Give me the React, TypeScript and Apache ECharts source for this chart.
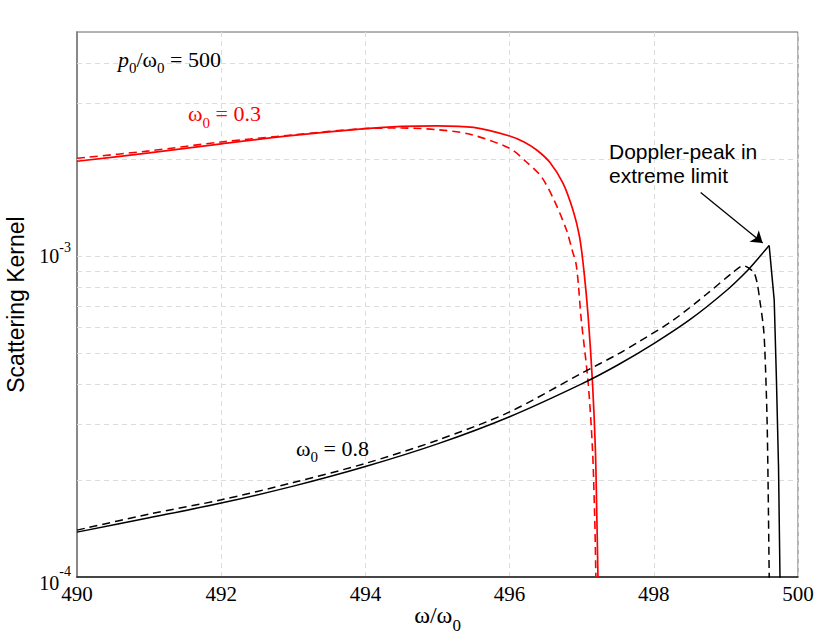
import React, { useEffect, useRef } from 'react';
import * as echarts from 'echarts';

// ---------- data ----------
const xTickValues = [490, 492, 494, 496, 498, 500];
const yGridValues = [2e-4, 3e-4, 4e-4, 5e-4, 6e-4, 7e-4, 8e-4, 9e-4, 1e-3, 2e-3, 3e-3, 4e-3];

// omega0 = 0.3, solid (red)
const redSolidX = [490, 491, 492, 493, 494, 494.5, 495, 495.5, 496, 496.2, 496.38, 496.56, 496.74, 496.88, 496.97, 497.03, 497.09, 497.15, 497.19, 497.21, 497.225, 497.235];
const redSolidY = [1.977e-3, 2.10e-3, 2.24e-3, 2.38e-3, 2.50e-3, 2.54e-3, 2.55e-3, 2.52e-3, 2.37e-3, 2.27e-3, 2.14e-3, 1.96e-3, 1.69e-3, 1.39e-3, 1.15e-3, 9.05e-4, 6.47e-4, 4.02e-4, 2.49e-4, 1.54e-4, 1.01e-4, 7e-5];

// omega0 = 0.3, dashed (red)
const redDashX = [490, 491, 492, 493, 494, 494.5, 495, 495.45, 496, 496.23, 496.44, 496.62, 496.79, 496.87, 496.92, 496.955, 496.99, 497.09, 497.15, 497.18, 497.195, 497.205];
const redDashY = [2.02e-3, 2.13e-3, 2.27e-3, 2.39e-3, 2.50e-3, 2.51e-3, 2.48e-3, 2.40e-3, 2.17e-3, 1.97e-3, 1.77e-3, 1.49e-3, 1.205e-3, 1.04e-3, 9.51e-4, 8.12e-4, 6.47e-4, 4.02e-4, 2.49e-4, 1.54e-4, 1.05e-4, 7e-5];

// omega0 = 0.8, solid (black) -- peak at index 14
const blackSolidX = [490, 491, 492, 493, 494, 495, 496, 497, 497.5, 498, 498.5, 499, 499.3, 499.45, 499.6, 499.67, 499.7, 499.73, 499.75, 499.76];
const blackSolidY = [1.38e-4, 1.53e-4, 1.70e-4, 1.92e-4, 2.21e-4, 2.60e-4, 3.16e-4, 4.0e-4, 4.58e-4, 5.34e-4, 6.34e-4, 7.79e-4, 9.03e-4, 9.86e-4, 1.08e-3, 7.3e-4, 4.2e-4, 2.2e-4, 1.0e-4, 7e-5];
const blackSolidPeakIndex = 14;

// omega0 = 0.8, dashed (black)
const blackDashX = [490, 491, 492, 493, 494, 495, 496, 497, 497.5, 497.81, 498.27, 498.73, 499.1, 499.24, 499.38, 499.43, 499.47, 499.52, 499.54, 499.57, 499.585, 499.6, 499.61];
const blackDashY = [1.40e-4, 1.57e-4, 1.74e-4, 1.97e-4, 2.26e-4, 2.67e-4, 3.27e-4, 4.32e-4, 4.95e-4, 5.44e-4, 6.32e-4, 7.61e-4, 8.91e-4, 9.34e-4, 8.94e-4, 8.32e-4, 7.29e-4, 6.02e-4, 5.1e-4, 3.16e-4, 1.96e-4, 1.03e-4, 7e-5];

// annotation arrow (data coordinates)
const arrowStart = [498.65, 1.58e-3];
const arrowEnd = [499.51, 1.10e-3];

const SERIF = '"Liberation Serif", "Times New Roman", serif';
const SANS = '"Liberation Sans", Arial, sans-serif';

const pair = (xs: number[], ys: number[]) => xs.map((x, i) => [x, ys[i]]);

export default function App() {
  const ref = useRef<HTMLDivElement>(null);

  useEffect(() => {
    if (!ref.current) return;
    const chart = echarts.init(ref.current, null, { renderer: 'svg' });

    const serifRich = (color: string) => ({
      n: { fontFamily: SERIF, fontSize: 22, fill: color },
      i: { fontFamily: SERIF, fontSize: 22, fontStyle: 'italic', fill: color },
      s: { fontFamily: SERIF, fontSize: 15, fill: color, padding: [18, 0, 0, 0] },
    });

    const option: any = {
      animation: false,
      backgroundColor: '#ffffff',
      grid: {
        left: 77, right: 32, top: 32, bottom: 65,
        show: true, borderColor: '#666', borderWidth: 1,
        outerBoundsMode: 'none',
      },
      xAxis: {
        type: 'value', min: 490, max: 500, interval: 2,
        axisLine: { show: true, onZero: false, lineStyle: { color: '#222', width: 1.5 } },
        axisTick: { show: false },
        axisLabel: {
          margin: 6, fontFamily: SERIF, fontSize: 21, color: '#000',
          formatter: (v: number) => (xTickValues.includes(v) ? String(v) : ''),
        },
        splitLine: { show: true, lineStyle: { color: '#dcdcdc', type: [5, 4], width: 1 } },
        name: '{n|ω/ω}{s|0}',
        nameLocation: 'middle', nameGap: 18, nameMoveOverlap: false,
        nameTextStyle: {
          rich: {
            n: { fontFamily: SERIF, fontSize: 24, color: '#000' },
            s: { fontFamily: SERIF, fontSize: 17, color: '#000', padding: [22, 0, 0, 0] },
          },
        },
      },
      yAxis: {
        type: 'log', logBase: 10, min: 1e-4, max: 5e-3,
        axisLine: { show: true, lineStyle: { color: '#888', width: 2 } },
        axisTick: { show: false },
        splitLine: { show: false },
        axisLabel: {
          margin: 6,
          formatter: (v: number) => {
            const e = Math.round(Math.log10(v));
            if (Math.abs(v - Math.pow(10, e)) / v > 1e-6) return '';
            return e === -4 ? `{b|10}{pb|${e}}` : `{a|10}{p|${e}}`;
          },
          rich: {
            a: { fontFamily: SERIF, fontSize: 20, color: '#000' },
            p: { fontFamily: SERIF, fontSize: 14, color: '#000', padding: [0, 0, 18, 0] },
            b: { fontFamily: SERIF, fontSize: 20, color: '#000', padding: [12, 0, 0, 0] },
            pb: { fontFamily: SERIF, fontSize: 14, color: '#000', padding: [0, 0, 12, 0] },
          },
        },
        name: 'Scattering Kernel',
        nameLocation: 'middle', nameGap: 50, nameMoveOverlap: false,
        nameTextStyle: { fontFamily: SANS, fontSize: 23, color: '#000' },
      },
      series: [
        {
          name: 'w03 solid', type: 'line', data: pair(redSolidX, redSolidY),
          showSymbol: false, symbol: 'none', smooth: 0.3, clip: true,
          lineStyle: { color: '#ff0000', width: 1.7, type: 'solid' },
          markLine: {
            silent: true, symbol: 'none', z: 1, animation: false, precision: 10,
            label: { show: false },
            lineStyle: { color: '#dcdcdc', type: [5, 4], width: 1 },
            emphasis: { disabled: true },
            data: yGridValues.map((v) => ({ yAxis: v })),
          },
          z: 3,
        },
        {
          name: 'w03 dashed', type: 'line', data: pair(redDashX, redDashY),
          showSymbol: false, symbol: 'none', smooth: 0.3, clip: true,
          lineStyle: { color: '#ff0000', width: 1.6, type: [8, 5] },
          z: 3,
        },
        {
          name: 'w08 solid rise', type: 'line',
          data: pair(blackSolidX.slice(0, blackSolidPeakIndex + 1), blackSolidY.slice(0, blackSolidPeakIndex + 1)),
          showSymbol: false, symbol: 'none', smooth: 0.3, clip: true,
          lineStyle: { color: '#000', width: 1.5, type: 'solid' },
          markLine: {
            silent: true, symbol: ['none', 'arrow'], symbolSize: 11, animation: false, precision: 10,
            label: { show: false },
            lineStyle: { color: '#000', type: 'solid', width: 1.3 },
            emphasis: { disabled: true },
            data: [[{ coord: arrowStart }, { coord: arrowEnd }]],
          },
          z: 3,
        },
        {
          name: 'w08 solid fall', type: 'line',
          data: pair(blackSolidX.slice(blackSolidPeakIndex), blackSolidY.slice(blackSolidPeakIndex)),
          showSymbol: false, symbol: 'none', smooth: false, clip: true,
          lineStyle: { color: '#000', width: 1.5, type: 'solid' },
          z: 3,
        },
        {
          name: 'w08 dashed', type: 'line', data: pair(blackDashX, blackDashY),
          showSymbol: false, symbol: 'none', smooth: 0.3, clip: true,
          lineStyle: { color: '#000', width: 1.5, type: [8, 5] },
          z: 3,
        },
      ],
      graphic: [
        {
          type: 'text', x: 118, y: 59, z: 10,
          style: {
            text: '{i|p}{s|0}{n|/ω}{s|0}{n| = 500}', rich: serifRich('#000'), fill: '#000',
            verticalAlign: 'middle', textVerticalAlign: 'middle', align: 'left', textAlign: 'left',
          },
        },
        {
          type: 'text', x: 188, y: 113.5, z: 10,
          style: {
            text: '{n|ω}{s|0}{n| = 0.3}', rich: serifRich('#ff0000'), fill: '#ff0000',
            verticalAlign: 'middle', textVerticalAlign: 'middle', align: 'left', textAlign: 'left',
          },
        },
        {
          type: 'text', x: 296, y: 448, z: 10,
          style: {
            text: '{n|ω}{s|0}{n| = 0.8}', rich: serifRich('#000'), fill: '#000',
            verticalAlign: 'middle', textVerticalAlign: 'middle', align: 'left', textAlign: 'left',
          },
        },
        {
          type: 'text', x: 609, y: 139, z: 10,
          style: {
            text: 'Doppler-peak in\nextreme limit', fill: '#000',
            font: `21px ${SANS}`, fontFamily: SANS, fontSize: 21, lineHeight: 24,
            verticalAlign: 'top', textVerticalAlign: 'top', align: 'left', textAlign: 'left',
          },
        },
      ],
    };

    chart.setOption(option);
    return () => chart.dispose();
  }, []);

  return (
    <div
      ref={ref}
      style={{ position: 'fixed', left: 0, top: 0, width: 830, height: 642, background: '#fff' }}
    />
  );
}
